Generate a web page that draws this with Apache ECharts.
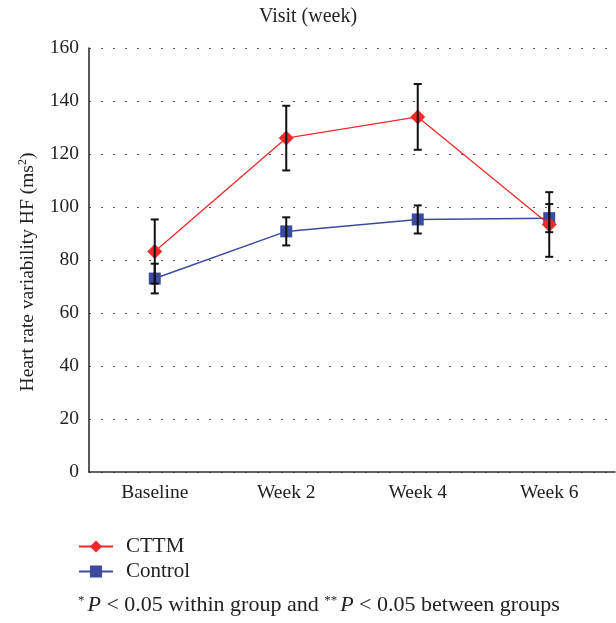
<!DOCTYPE html>
<html>
<head>
<meta charset="utf-8">
<script src="https://cdn.jsdelivr.net/npm/echarts@6/dist/echarts.min.js"></script>
<style>
  html, body { margin: 0; padding: 0; background: #fff; }
  #main { width: 616px; height: 623px; }
</style>
</head>
<body>
<div id="main"></div>
<script>
// visits on the x axis
const visits = ['Baseline', 'Week 2', 'Week 4', 'Week 6'];
// mean HF values
const cttm = [83.2, 126, 134, 93.4];
const control = [73, 90.8, 95.3, 95.8];
// half-width of the error bars
const cttmErr = [12.1, 12.2, 12.4, 12.2];
const control_err = [5.6, 5.3, 5.3, 5.3];

const serif = '"Liberation Serif", "DejaVu Serif", serif';

const chart = echarts.init(document.getElementById('main'));

// error bar as custom series: vertical line + two caps
function errorBars(means, errs) {
    return {
        type: 'custom',
        z: 10,
        silent: true,
        data: means.map((m, i) => [i, m - errs[i], m + errs[i]]),
        renderItem: (params, api) => {
            const lo = api.coord([api.value(0), api.value(1)]);
            const hi = api.coord([api.value(0), api.value(2)]);
            const w = 4;
            const st = { stroke: '#111', lineWidth: 2 };
            return {
                type: 'group',
                children: [
                    { type: 'line', shape: { x1: lo[0], y1: lo[1], x2: hi[0], y2: hi[1] }, style: st },
                    { type: 'line', shape: { x1: lo[0] - w, y1: lo[1], x2: lo[0] + w, y2: lo[1] }, style: st },
                    { type: 'line', shape: { x1: hi[0] - w, y1: hi[1], x2: hi[0] + w, y2: hi[1] }, style: st }
                ]
            };
        }
    };
}

const option = {
    animation: false,
    title: {
        text: 'Visit (week)',
        left: 'center',
        top: 2,
        textStyle: { fontFamily: serif, fontSize: 20, fontWeight: 'normal', color: '#222' }
    },
    grid: { left: 89, right: 1, top: 48, bottom: 151 },
    legend: {
        orient: 'vertical',
        left: 73,
        top: 531,
        itemWidth: 34,
        itemHeight: 15,
        itemGap: 4,
        textStyle: { fontFamily: serif, fontSize: 21, color: '#222', padding: [0, 0, 0, 8] },
        data: ['CTTM', 'Control']
    },
    xAxis: {
        type: 'category',
        data: visits,
        boundaryGap: true,
        axisTick: { show: false },
        axisLine: { lineStyle: { color: '#333', width: 1.5 } },
        axisLabel: { fontFamily: serif, fontSize: 19.5, color: '#222', margin: 11 }
    },
    yAxis: {
        type: 'value',
        min: 0,
        max: 160,
        interval: 20,
        name: 'Heart rate variability HF (ms{sup|2})',
        nameLocation: 'middle',
        nameGap: 51,
        nameTextStyle: {
            fontFamily: serif, fontSize: 19.5, color: '#222',
            padding: [0, 24, 0, 0],
            rich: { sup: { fontFamily: serif, fontSize: 12, color: '#222', padding: [0, 0, 9, 0] } }
        },
        axisLine: { show: true, lineStyle: { color: '#222', width: 1.5 } },
        axisTick: { show: false },
        axisLabel: { fontFamily: serif, fontSize: 19.5, color: '#222', margin: 10 },
        splitLine: { lineStyle: { color: '#555', type: [2, 10], width: 1.2 } }
    },
    series: [
        {
            name: 'CTTM',
            type: 'line',
            data: cttm,
            symbol: 'diamond',
            symbolSize: 15,
            itemStyle: { color: '#ee2a2a' },
            lineStyle: { color: '#ee2a2a', width: 1.3 },
            z: 3
        },
        {
            name: 'Control',
            type: 'line',
            data: control,
            symbol: 'rect',
            symbolSize: 12,
            itemStyle: { color: '#3c4aa0' },
            lineStyle: { color: '#3c4aa0', width: 1.5 },
            z: 2
        },
        errorBars(cttm, cttmErr),
        errorBars(control, control_err)
    ],
    graphic: [{
        type: 'text',
        left: 78,
        top: 594,
        style: {
            text: '{sup|*}{it|P} < 0.05 within group and {sup|**}{it|P} < 0.05 between groups',
            fontFamily: serif,
            fontSize: 22,
            fill: '#222',
            rich: {
                sup: { fontFamily: serif, fontSize: 13, fill: '#222', padding: [0, 3, 10, 0] },
                it: { fontFamily: serif, fontSize: 22, fontStyle: 'italic', fill: '#222' }
            }
        }
    }]
};

chart.setOption(option);
</script>
</body>
</html>
